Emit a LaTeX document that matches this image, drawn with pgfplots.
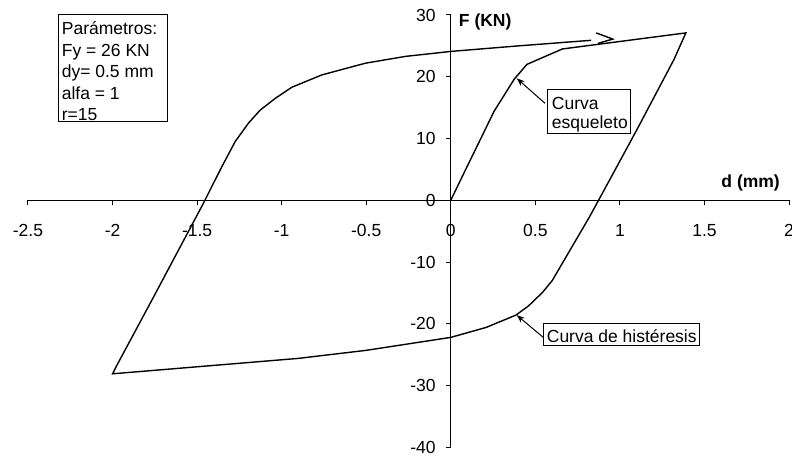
\documentclass[border=0pt]{standalone}
\usepackage{fontspec}
\setmainfont{Liberation Sans}
\usepackage{pgfplots}
\pgfplotsset{compat=1.18}
\usetikzlibrary{arrows.meta}

\newcommand{\lbl}{\fontsize{17.5}{21}\selectfont}
\newcommand{\blbl}{\fontsize{17.5}{21}\selectfont\bfseries}

\begin{document}
\begin{tikzpicture}
\begin{axis}[
  scale only axis, width=761pt, height=432.3pt,
  xmin=-2.5, xmax=2, ymin=-40, ymax=30,
  axis lines=middle,
  axis line style={-, line width=1pt},
  hide obscured x ticks=false, hide obscured y ticks=false,
  xtick={-2.5,-2,-1.5,-1,-0.5,0,0.5,1,1.5,2},
  xticklabels={-2.5,-2,-1.5,-1,-0.5,0,0.5,1,1.5,2},
  ytick={-40,-30,-20,-10,0,10,20,30},
  yticklabels={-40,-30,-20,-10,0,10,20,30},
  tick align=outside, major tick length=5pt,
  tick style={line width=1pt, black},
  tick label style={font=\lbl},
  xticklabel style={anchor=base, yshift=-31pt},
  yticklabel style={anchor=east, inner sep=0pt, xshift=-10pt},
  clip=false,
]
% skeleton curve, unloading branch and reloading branch
\addplot[black, line width=1.4pt] coordinates {
  (0,0) (0.067,3.8) (0.256,14.4) (0.375,19.6) (0.45,22.0) (0.66,24.5) (1.39,27.1)
  (1.32,22.8) (1.1,11.4) (0.88,0.3) (0.82,-2.7) (0.6,-13) (0.543,-14.9)
  (0.46,-17.1) (0.385,-18.6) (0.208,-20.6) (0,-22.2) (-0.19,-23.0)
  (-0.5,-24.3) (-0.9,-25.6) (-2.0,-28.1)
  (-1.976,-26.8) (-1.77,-16.3) (-1.463,-0.5) (-1.364,4.9) (-1.275,9.5)
  (-1.196,12.5) (-1.127,14.6) (-1.038,16.5) (-0.94,18.3) (-0.762,20.3)
  (-0.504,22.2) (-0.267,23.3) (0,24.1) (0.4,25.0) (0.83,25.9)
};
% direction mark on the reloading branch
\addplot[black, line width=1.4pt] coordinates {(0.86,27.1) (0.958,26.1) (0.87,25.4)};

\coordinate (bl) at (rel axis cs:0,0);
\coordinate (tr) at (rel axis cs:1,1);

% axis titles
\node[anchor=base west, inner sep=0pt, font=\blbl] at (axis cs:0,30) [xshift=8pt, yshift=-11.7pt] {F (KN)};
\node[anchor=base east, inner sep=0pt, font=\blbl] at (axis cs:2,0) [xshift=-9pt, yshift=13pt] {d (mm)};

% parameter box
\draw[line width=1pt] (axis cs:-2.317,30) rectangle (axis cs:-1.677,12.73);
\node[anchor=base west, inner sep=0pt, font=\lbl] at (axis cs:-2.301,26.77) {Parámetros:};
\node[anchor=base west, inner sep=0pt, font=\lbl] at (axis cs:-2.301,23.30) {Fy = 26 KN};
\node[anchor=base west, inner sep=0pt, font=\lbl] at (axis cs:-2.301,19.83) {dy= 0.5 mm};
\node[anchor=base west, inner sep=0pt, font=\lbl] at (axis cs:-2.301,16.37) {alfa = 1};
\node[anchor=base west, inner sep=0pt, font=\lbl] at (axis cs:-2.301,12.90) {r=15};

% callouts
\draw[line width=1pt] (axis cs:0.573,17.97) rectangle (axis cs:1.06,10.85);
\node[anchor=base west, inner sep=0pt, font=\lbl] at (axis cs:0.597,14.73) {Curva};
\node[anchor=base west, inner sep=0pt, font=\lbl] at (axis cs:0.597,11.66) {esqueleto};
\draw[line width=1pt, -{Stealth[length=8pt,width=6pt]}] (axis cs:0.557,15.7) -- (axis cs:0.39,19.75);

\draw[line width=1pt] (axis cs:0.547,-19.9) rectangle (axis cs:1.469,-23.5);
\node[anchor=base west, inner sep=0pt, font=\lbl] at (axis cs:0.567,-23.06) {Curva de histéresis};
\draw[line width=1pt, -{Stealth[length=8pt,width=6pt]}] (axis cs:0.547,-22.2) -- (axis cs:0.39,-18.6);
\end{axis}
\pgfresetboundingbox
\path ([xshift=-28pt,yshift=-9.7pt]bl) rectangle ([xshift=3pt,yshift=15pt]tr);
\end{tikzpicture}
\end{document}
